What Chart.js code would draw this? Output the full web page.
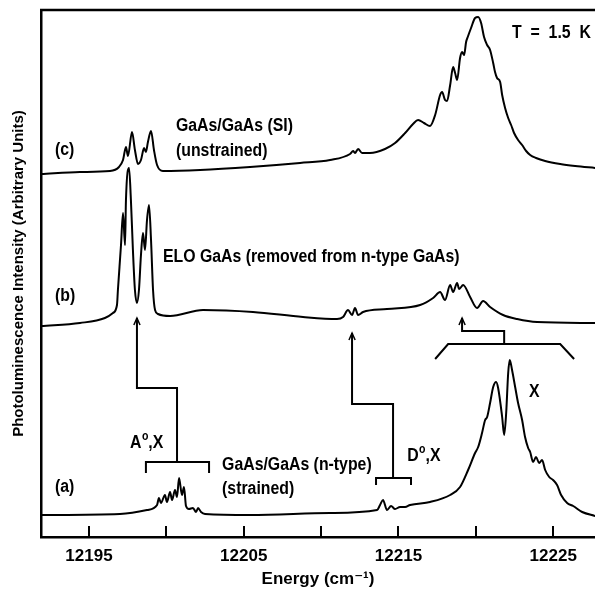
<!DOCTYPE html>
<html>
<head>
<meta charset="utf-8">
<script src="https://cdn.jsdelivr.net/npm/chart.js@4.4.1/dist/chart.umd.min.js"></script>
<style>
    html, body { margin: 0; padding: 0; background: #fff; }
    canvas { display: block; }
</style>
</head>
<body>
<canvas id="pl" width="595" height="595"></canvas>
<script>
/*
    Photoluminescence spectra of the three GaAs samples, stacked with an offset.
    Points are [energy (cm-1), intensity (arbitrary units)].
*/

const spectrumC = [
    [12191.90, 363], [12194.42, 365], [12196.36, 366], [12196.94, 370], [12197.20, 377],
    [12197.39, 390], [12197.52, 381], [12197.78, 405], [12197.97, 387], [12198.17, 373],
    [12198.36, 377], [12198.56, 389], [12198.68, 385], [12198.81, 395], [12199.01, 406],
    [12199.20, 387], [12199.40, 372], [12199.78, 366], [12202.18, 367], [12205.41, 370],
    [12208.64, 374], [12210.58, 377], [12211.87, 383], [12212.07, 386], [12212.19, 384],
    [12212.39, 388], [12212.65, 384], [12213.16, 384], [12214.13, 388], [12214.78, 394],
    [12215.43, 404], [12215.94, 413], [12216.27, 417], [12216.65, 414], [12217.04, 411],
    [12217.37, 422], [12217.69, 442], [12217.82, 445], [12218.01, 437], [12218.14, 436],
    [12218.34, 452], [12218.53, 470], [12218.66, 464], [12218.79, 457], [12218.98, 479],
    [12219.11, 485], [12219.24, 482], [12219.37, 495], [12219.50, 501], [12219.69, 509],
    [12219.95, 519], [12220.15, 520], [12220.34, 514], [12220.53, 500], [12220.73, 492],
    [12220.92, 487], [12221.12, 474], [12221.24, 465], [12221.37, 459], [12221.57, 455],
    [12221.70, 442], [12221.89, 429], [12222.09, 419], [12222.28, 412], [12222.47, 404],
    [12222.73, 397], [12222.99, 392], [12223.25, 386], [12223.51, 382], [12223.89, 379],
    [12224.48, 376], [12225.45, 373], [12226.42, 371], [12227.71, 369]
];

const spectrumB = [
    [12191.90, 211], [12194.42, 214], [12196.03, 219], [12196.55, 224], [12196.81, 232],
    [12196.87, 247], [12197.07, 292], [12197.20, 324], [12197.33, 292], [12197.39, 337],
    [12197.59, 369], [12197.71, 337], [12197.84, 287], [12197.97, 247], [12198.10, 234],
    [12198.23, 247], [12198.36, 282], [12198.49, 304], [12198.62, 287], [12198.75, 317],
    [12198.88, 332], [12199.01, 297], [12199.14, 247], [12199.27, 227], [12199.46, 223],
    [12200.24, 221], [12202.37, 227], [12205.60, 225], [12208.83, 220], [12211.03, 218],
    [12211.42, 220], [12211.74, 227], [12212.00, 222], [12212.19, 229], [12212.39, 222],
    [12212.71, 225], [12214.26, 228], [12216.40, 232], [12217.24, 239], [12217.69, 245],
    [12218.01, 237], [12218.34, 252], [12218.53, 245], [12218.79, 254], [12218.92, 248],
    [12219.18, 252], [12219.63, 240], [12220.08, 229], [12220.47, 236], [12220.92, 230],
    [12221.76, 222], [12222.67, 218], [12223.96, 215], [12227.71, 214]
];

const spectrumA = [
    [12191.90, 22], [12197.00, 23], [12198.75, 27], [12199.40, 32], [12199.52, 39],
    [12199.65, 34], [12199.91, 42], [12200.04, 35], [12200.24, 45], [12200.37, 37],
    [12200.56, 47], [12200.69, 40], [12200.82, 59], [12201.01, 42], [12201.14, 50],
    [12201.27, 31], [12201.46, 28], [12201.72, 29], [12201.92, 25], [12202.05, 29],
    [12202.24, 25], [12202.50, 23], [12205.41, 22], [12210.58, 24], [12213.62, 27],
    [12213.81, 32], [12214.00, 37], [12214.26, 27], [12214.52, 31], [12214.78, 28],
    [12215.10, 30], [12215.43, 30], [12215.75, 32], [12217.04, 35], [12218.34, 42],
    [12218.98, 50], [12219.50, 67], [12219.95, 84], [12220.15, 90], [12220.40, 104],
    [12220.60, 117], [12220.73, 120], [12220.92, 134], [12221.12, 150], [12221.31, 155],
    [12221.44, 149], [12221.70, 120], [12221.83, 102], [12221.96, 124], [12222.09, 164],
    [12222.19, 177], [12222.34, 167], [12222.54, 150], [12222.73, 134], [12222.99, 117],
    [12223.18, 100], [12223.38, 89], [12223.51, 85], [12223.70, 75], [12223.89, 80],
    [12224.09, 74], [12224.28, 77], [12224.48, 67], [12224.74, 60], [12224.99, 57],
    [12225.25, 52], [12225.51, 42], [12225.90, 34], [12226.29, 31], [12226.87, 25],
    [12227.71, 21]
];

const tickValues = [12195, 12200, 12205, 12210, 12215, 12220, 12225];
const tickLabels = ['12195', '', '12205', '', '12215', '', '12225'];

// brackets under the (a) peaks and the leaders up to the matching (b) peaks
const bracketAX = [[12198.68, 64], [12198.68, 75], [12202.76, 75], [12202.76, 64]];
const leaderAX = [[12200.69, 75], [12200.69, 149], [12198.10, 149], [12198.10, 219]];
const bracketDX = [[12213.55, 52], [12213.55, 59], [12215.81, 59], [12215.81, 52]];
const leaderDX = [[12214.65, 59], [12214.65, 133], [12212.00, 133], [12212.00, 204]];
const bracketX = [[12217.37, 178], [12218.21, 193], [12225.45, 193], [12226.35, 178]];
const leaderX = [[12221.83, 193], [12221.83, 206], [12219.11, 206], [12219.11, 219]];
const arrowTips = [[12198.10, 219], [12212.00, 204], [12219.11, 219]];

const notes = [
    { text: '(c)', x: 12192.80, y: 387 },
    { text: 'GaAs/GaAs (SI)', x: 12200.62, y: 411 },
    { text: '(unstrained)', x: 12200.62, y: 386 },
    { text: '(b)', x: 12192.80, y: 241 },
    { text: 'ELO GaAs (removed from n-type GaAs)', x: 12199.78, y: 280 },
    { text: 'T  =  1.5  K', x: 12222.34, y: 504 },
    { text: '(a)', x: 12192.80, y: 50 },
    { text: 'A', sup: 'o', after: ',X', x: 12197.65, y: 94 },
    { text: 'GaAs/GaAs (n-type)', x: 12203.60, y: 72 },
    { text: '(strained)', x: 12203.60, y: 48 },
    { text: 'D', sup: 'o', after: ',X', x: 12215.56, y: 81 },
    { text: 'X', x: 12223.44, y: 145 }
];

const FONT = '"Liberation Sans", "DejaVu Sans", Arial, sans-serif';

function lineSet(points, width, smooth) {
    return {
        data: points.map(p => ({ x: p[0], y: p[1] })),
        borderColor: '#000',
        borderWidth: width,
        pointRadius: 0,
        fill: false,
        tension: 0,
        cubicInterpolationMode: smooth ? 'monotone' : 'default'
    };
}

function arrowHead(tip) {
    return [[tip[0] - 0.2, tip[1] - 7], tip, [tip[0] + 0.2, tip[1] - 7]];
}

let dataSets = [
    lineSet(spectrumC, 2, true),
    lineSet(spectrumB, 2, true),
    lineSet(spectrumA, 2, true),
    lineSet(bracketAX, 2, false),
    lineSet(leaderAX, 2, false),
    lineSet(bracketDX, 2, false),
    lineSet(leaderDX, 2, false),
    lineSet(bracketX, 2, false),
    lineSet(leaderX, 2, false)
];
for (const tip of arrowTips) {
    dataSets.push(lineSet(arrowHead(tip), 1.5, false));
}

// the figure's lettering is a tall narrow face: draw it squeezed a little
function squeezedText(ctx, text, x, y) {
    ctx.save();
    ctx.translate(x, y);
    ctx.scale(0.88, 1);
    ctx.fillText(text, 0, 0);
    ctx.restore();
    return ctx.measureText(text).width * 0.88;
}

// top frame line, inward tick marks and the text notes
const decorations = {
    id: 'decorations',
    afterDatasetsDraw(chart) {
        let ctx = chart.ctx;
        let area = chart.chartArea;
        let xs = chart.scales.x;
        let ys = chart.scales.y;
        ctx.save();
        ctx.strokeStyle = '#000';
        ctx.fillStyle = '#000';
        ctx.lineWidth = 2.5;
        ctx.beginPath();
        ctx.moveTo(area.left - 1, area.top);
        ctx.lineTo(area.right, area.top);
        ctx.stroke();

        ctx.lineWidth = 2;
        for (const v of tickValues) {
            let px = Math.round(xs.getPixelForValue(v));
            ctx.beginPath();
            ctx.moveTo(px, area.bottom);
            ctx.lineTo(px, area.bottom - 11);
            ctx.stroke();
        }

        let base = 'bold 18px ' + FONT;
        ctx.textBaseline = 'middle';
        ctx.textAlign = 'left';
        for (const n of notes) {
            let px = xs.getPixelForValue(n.x);
            let py = ys.getPixelForValue(n.y);
            ctx.font = base;
            let w = squeezedText(ctx, n.text, px, py);
            if (n.sup) {
                ctx.font = 'bold 12px ' + FONT;
                let w2 = squeezedText(ctx, n.sup, px + w + 0.5, py - 6);
                ctx.font = base;
                squeezedText(ctx, n.after, px + w + w2 + 0.5, py);
            }
        }
        ctx.restore();
    }
};

let context = document.getElementById('pl').getContext('2d');
window.plChart = new Chart(context, {
    type: 'line',
    data: { datasets: dataSets },
    plugins: [decorations],
    options: {
        responsive: false,
        animation: false,
        devicePixelRatio: 1,
        layout: { padding: { top: 10, right: 0, left: 0, bottom: 0 } },
        plugins: {
            legend: { display: false },
            tooltip: { enabled: false }
        },
        scales: {
            x: {
                type: 'linear',
                min: 12191.9,
                max: 12227.7,
                afterBuildTicks: (s) => { s.ticks = tickValues.map(v => ({ value: v })); },
                afterFit: (s) => { s.height = 58; },
                ticks: {
                    autoSkip: false,
                    maxRotation: 0,
                    padding: 9,
                    color: '#000',
                    font: { family: FONT, size: 17, weight: 'bold' },
                    callback: (v, i) => tickLabels[i]
                },
                grid: { display: false, drawTicks: false },
                border: { display: true, color: '#000', width: 2.5 },
                title: {
                    display: true,
                    text: 'Energy (cm\u207B\u00B9)',
                    color: '#000',
                    font: { family: FONT, size: 17, weight: 'bold' },
                    padding: { top: 5, bottom: 5 }
                }
            },
            y: {
                min: 0,
                max: 527,
                afterFit: (s) => { s.width = 41; },
                ticks: { display: false },
                grid: { display: false, drawTicks: false },
                border: { display: true, color: '#000', width: 2.5 },
                title: {
                    display: true,
                    text: 'Photoluminescence Intensity (Arbitrary Units)',
                    color: '#000',
                    font: { family: FONT, size: 15, weight: 'bold' },
                    padding: { top: 10, bottom: 10 }
                }
            }
        }
    }
});
</script>
</body>
</html>
